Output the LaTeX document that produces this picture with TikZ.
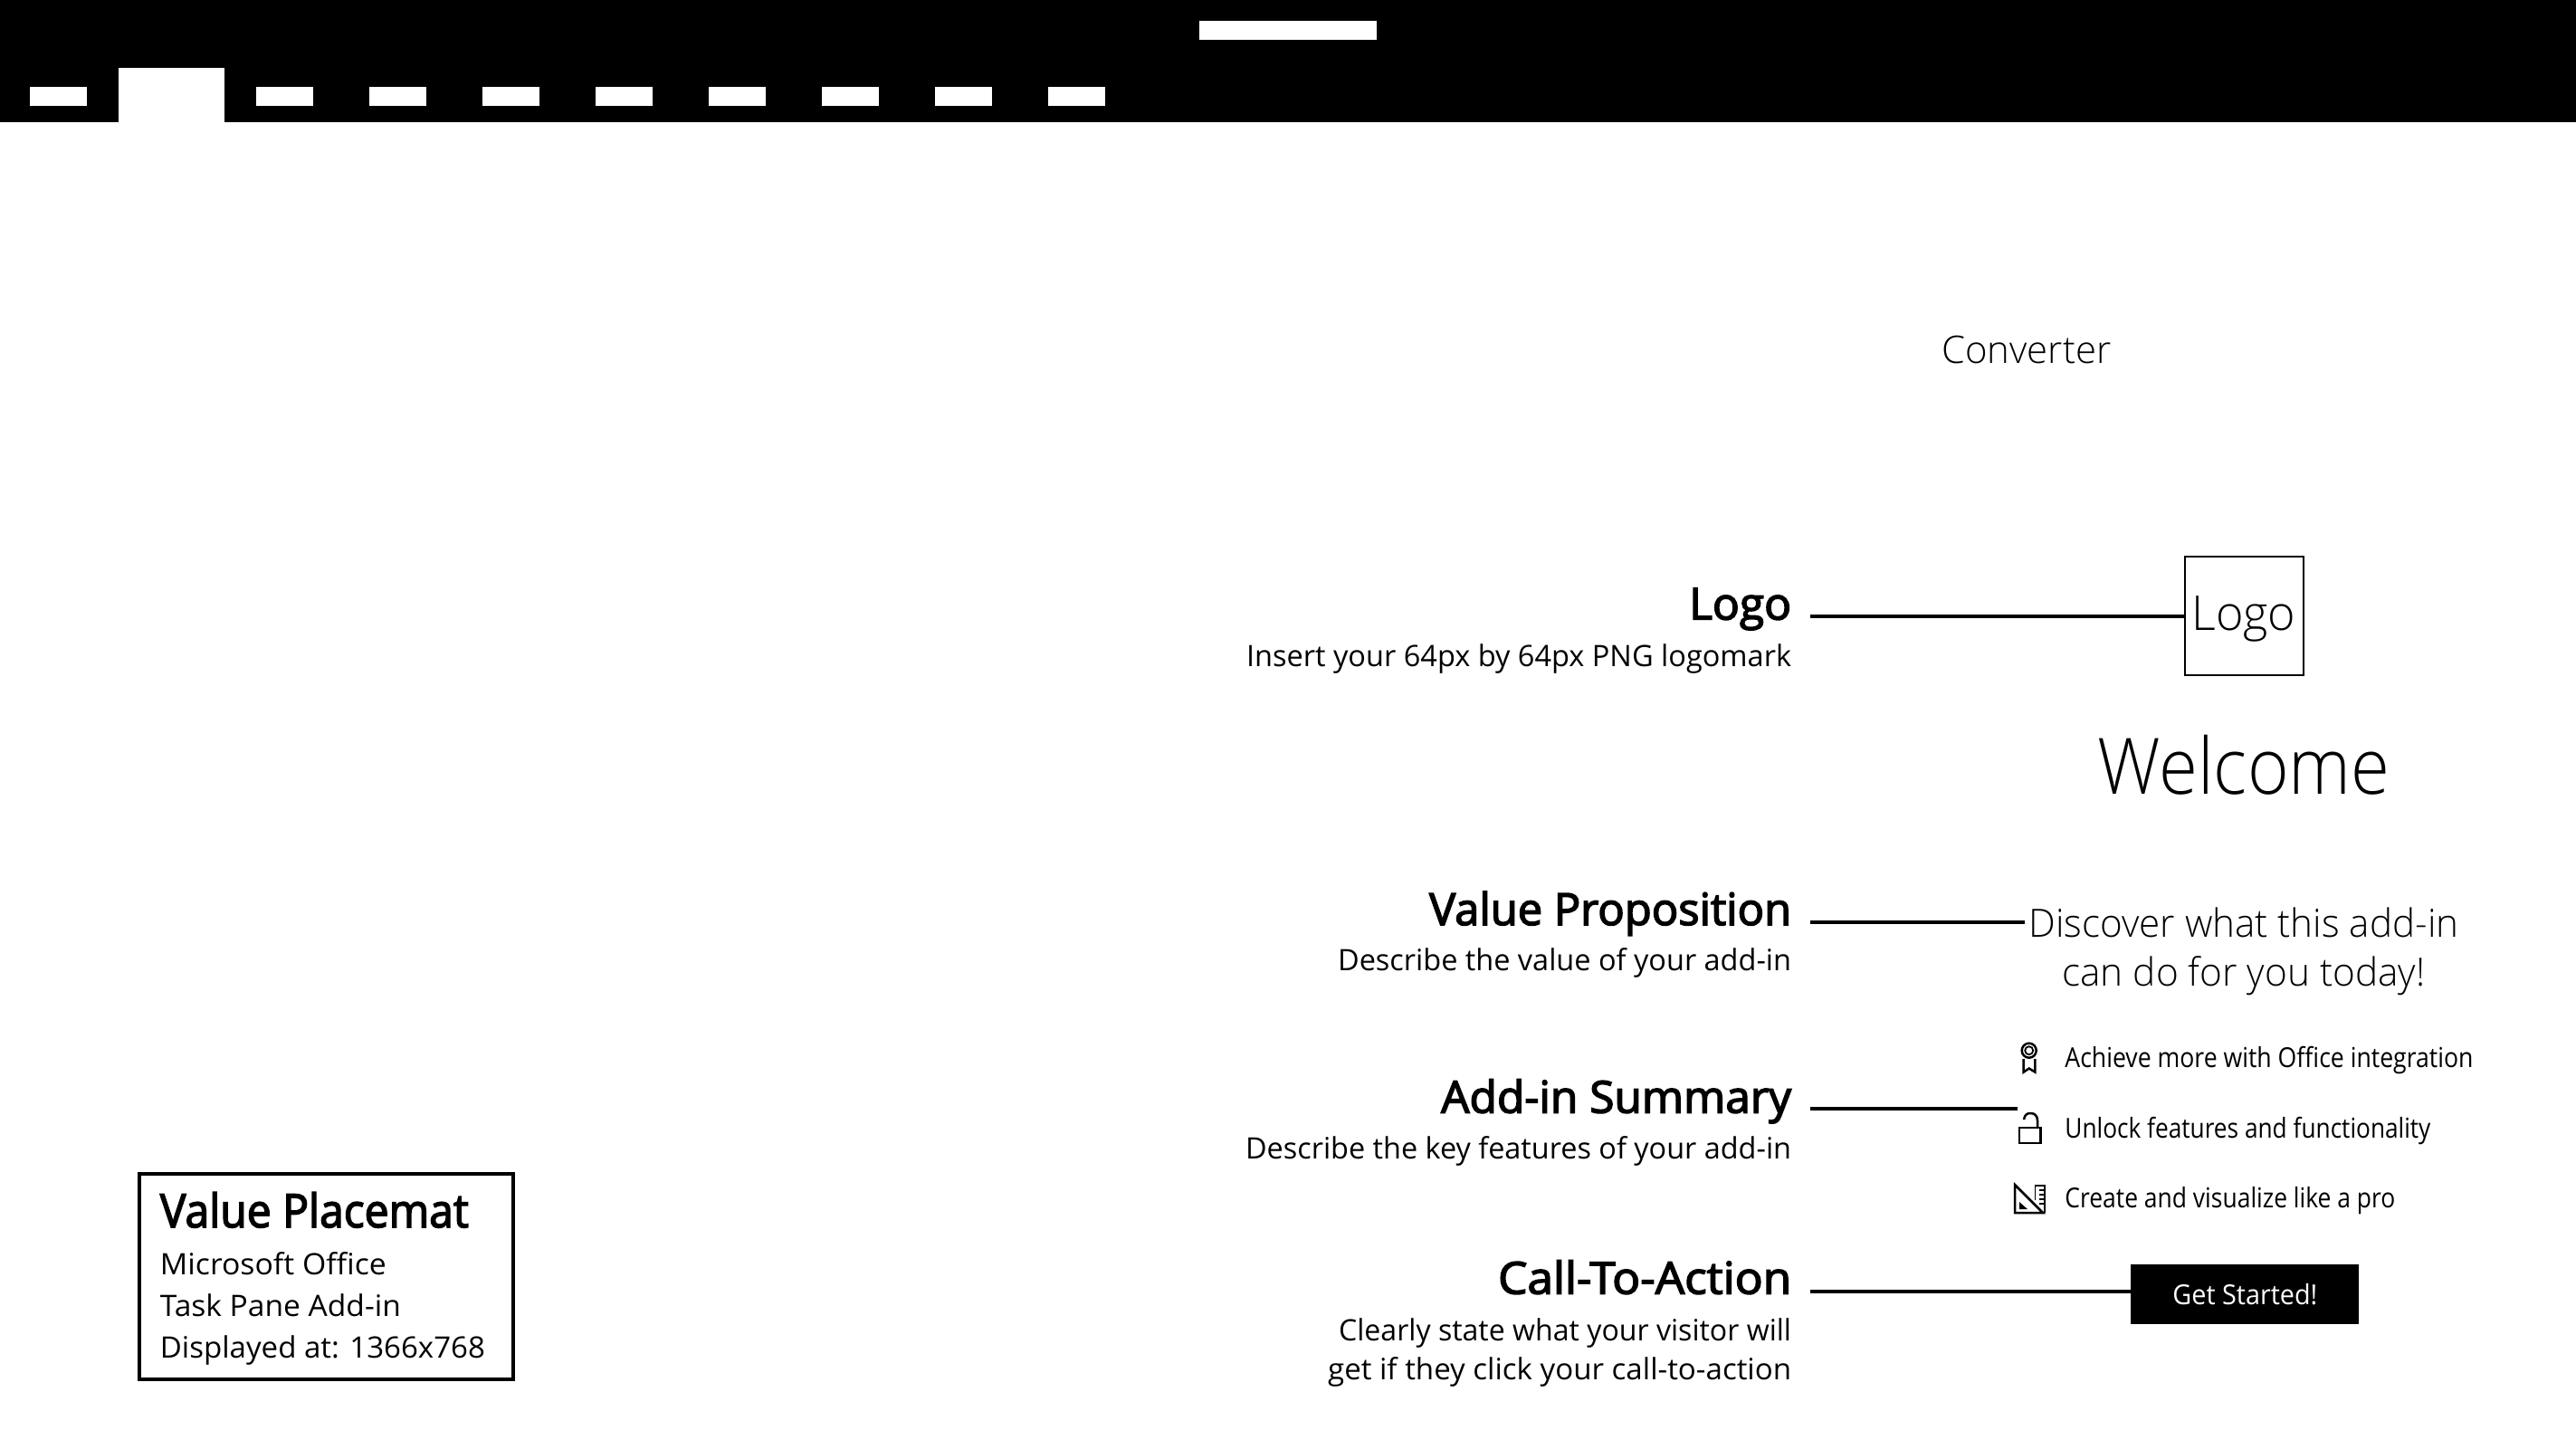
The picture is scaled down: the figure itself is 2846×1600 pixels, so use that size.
\documentclass[tikz,border=0pt]{standalone}
\usepackage{graphicx}
\usepackage{fontspec}
\setmainfont{Open Sans}
\newfontfamily\lightf{Open Sans Light}
\newfontfamily\semif[FakeBold=3]{Open Sans}
\newcommand{\fsz}[1]{\fontsize{#1}{#1}\selectfont}
\newcommand{\fitw}[2]{\resizebox{\dimexpr#1pt*1/2\relax}{\height}{#2}}
\newcommand{\headt}[2]{\fitw{#1}{\semif\fsz{24.5}#2}}
\newcommand{\subt}[2]{\fitw{#1}{\fsz{16.3}#2}}
\newcommand{\itemt}[2]{\fitw{#1}{\fsz{15.2}#2}}
\tikzset{x=0.5pt,y=-0.5pt,
  wht/.style={fill=white,draw=none},
  rlbl/.style={inner sep=0pt,anchor=base east,text=black},
  llbl/.style={inner sep=0pt,anchor=base west,text=black},
  link/.style={draw=black,line width=1.75pt},
  icon/.style={draw=black,line width=1.25pt,line join=miter}}
\begin{document}
\begin{tikzpicture}
\useasboundingbox (0,0) rectangle (2846,1600);
\fill[white] (0,0) rectangle (2846,1600);
% ribbon
\fill[black] (0,0) rectangle (2846,135);
\fill[wht] (130.5,75) rectangle (248,135);
\fill[wht] (1325,23) rectangle (1521,44);
\foreach \xx in {33,283,408,533,658,783,908,1033,1158} \fill[wht] (\xx,96) rectangle ++(63,21);
% pane
\node[llbl] (conv) at (2145,401.5) {\fitw{187}{\lightf\fsz{21}Converter}};
\node[draw=black,line width=1pt,minimum width=65.5pt,minimum height=65.5pt,inner sep=0pt] (logobox) at (2479.5,680.5) {};
\node[llbl] (logotxt) at (2421,696) {\fitw{115}{\lightf\fsz{26.5}Logo}};
\node[llbl] (welcome) at (2317,877.5) {\fitw{323}{\lightf\fsz{43}Welcome}};
\node[llbl] (disc1) at (2241,1035.5) {\fitw{475}{\lightf\fsz{21.5}Discover what this add-in}};
\node[llbl] (disc2) at (2278,1089) {\fitw{401}{\lightf\fsz{21.5}can do for you today!}};
\node[llbl] (it1) at (2281,1179.5) {\itemt{451}{Achieve more with Office integration}};
\node[llbl] (it2) at (2281,1257.5) {\itemt{404}{Unlock features and functionality}};
\node[llbl] (it3) at (2281,1334.5) {\itemt{365}{Create and visualize like a pro}};
\node[fill=black,minimum width=126pt,minimum height=33pt,inner sep=0pt] (cta) at (2480,1429.5) {};
\node[llbl,text=white] (ctat) at (2400,1441.5) {\fitw{160}{\color{white}\fsz{15.2}Get Started!}};
% labels
\node[rlbl] (h1) at (1979.5,684.5) {\headt{113}{Logo}};
\node[rlbl] (s1) at (1979.5,736.5) {\subt{602}{Insert your 64px by 64px PNG logomark}};
\node[rlbl] (h2) at (1979.5,1022) {\headt{400}{Value Proposition}};
\node[rlbl] (s2) at (1979.5,1072.5) {\subt{501}{Describe the value of your add-in}};
\node[rlbl] (h3) at (1979.5,1229.5) {\headt{387}{Add-in Summary}};
\node[rlbl] (s3) at (1979.5,1280.5) {\subt{603}{Describe the key features of your add-in}};
\node[rlbl] (h4) at (1979.5,1429.5) {\headt{324}{Call-To-Action}};
\node[rlbl] (s4) at (1979.5,1481.5) {\subt{500}{Clearly state what your visitor will}};
\node[rlbl] (s5) at (1979.5,1524.5) {\subt{512}{get if they click your call-to-action}};
% connectors
\coordinate (c1) at (2000,681);
\coordinate (c2) at (2000,1019);
\coordinate (c2e) at (2236.5,1019);
\coordinate (c3) at (2000,1225);
\coordinate (c3e) at (2229,1225);
\coordinate (c4) at (2000,1427);
\draw[link] (c1) -- (c1-|logobox.west);
\draw[link] (c2) -- (c2e);
\draw[link] (c3) -- (c3e);
\draw[link] (c4) -- (c4-|cta.west);
% icons
\draw[icon] (2241.7,1160.7) circle[radius=8];
\draw[icon,line width=0.9pt] (2241.7,1160.7) circle[radius=4.5];
\draw[icon] (2235.7,1170) -- (2235.7,1184.5) -- (2241.7,1180.5) -- (2248.3,1184.5) -- (2248.3,1170);
\draw[icon] (2231,1246) rectangle (2254.5,1263);
\draw[icon] (2230,1246) -- (2255.5,1246);
\draw[icon] (2236,1237) .. controls (2237,1231) and (2240,1230) .. (2243.5,1230) .. controls (2248,1230) and (2251,1233) .. (2251,1238) -- (2251,1245);
\draw[icon] (2226,1309) -- (2226,1340) -- (2257,1340) -- cycle;
\fill[black] (2231,1328) -- (2231,1336) -- (2240,1336) -- cycle;
\draw[icon,line width=0.9pt] (2248.5,1326) -- (2248.5,1310) -- (2259,1310) -- (2259,1340);
\draw[icon,line width=0.9pt] (2253,1315) -- (2259,1315) (2253,1320) -- (2259,1320) (2253,1325) -- (2259,1325) (2253,1330) -- (2259,1330);
% value placemat
\node[draw=black,line width=2pt,minimum width=206.5pt,minimum height=113.5pt,inner sep=0pt] (pmbox) at (360.5,1410) {};
\node[llbl] (pm1) at (176.5,1356) {\fitw{341}{\semif\fsz{25.6}Value Placemat}};
\node[llbl] (pm2) at (176.5,1408) {\subt{250}{Microsoft Office}};
\node[llbl] (pm3) at (176.5,1454) {\subt{266}{Task Pane Add-in}};
\node[llbl] (pm4) at (176.5,1500) {\subt{359}{Displayed at: 1366x768}};
\end{tikzpicture}
\end{document}
